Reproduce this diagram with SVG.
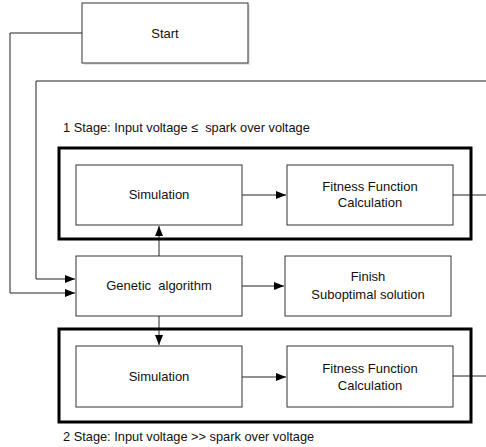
<svg xmlns="http://www.w3.org/2000/svg" width="486" height="447" viewBox="0 0 486 447">
<style>
.box{fill:#fff;stroke:#333;stroke-width:1}
.stage{fill:none;stroke:#000;stroke-width:3}
.ln{fill:none;stroke:#222;stroke-width:1}
text{font-family:"Liberation Sans",Arial,sans-serif;font-size:13px;fill:#111;text-anchor:middle}
.lbl{text-anchor:start;font-size:12.8px}
</style>
<defs>
<marker id="ah" markerWidth="10" markerHeight="8" refX="10" refY="4" orient="auto" markerUnits="userSpaceOnUse">
<path d="M0,0 L10,4 L0,8 Z" fill="#000"/>
</marker>
</defs>
<rect width="486" height="447" fill="#fff"/>
<g id="connectors">
<path class="ln" d="M82,33 H10 V293 H75" marker-end="url(#ah)"/>
<path class="ln" d="M486,81 H36 V279 H75" marker-end="url(#ah)"/>
<path class="ln" d="M242,195 H286" marker-end="url(#ah)"/>
<path class="ln" d="M453,195 H486"/>
<path class="ln" d="M159,256 V226" marker-end="url(#ah)"/>
<path class="ln" d="M242,286 H284" marker-end="url(#ah)"/>
<path class="ln" d="M159,316 V345" marker-end="url(#ah)"/>
<path class="ln" d="M242,377 H286" marker-end="url(#ah)"/>
<path class="ln" d="M453,376 H486"/>
</g>
<g id="start">
<rect x="84" y="5" width="166" height="60" fill="#ccc" opacity="0.5"/>
<rect class="box" x="82" y="3" width="166" height="60"/>
<text x="165" y="38">Start</text>
</g>
<g id="stage1">
<text class="lbl" x="63" y="132" xml:space="preserve">1 Stage: Input voltage ≤  spark over voltage</text>
<rect class="stage" x="59" y="148" width="412" height="91"/>
</g>
<g id="sim1">
<rect class="box" x="76" y="165" width="166" height="60"/>
<text x="159" y="199">Simulation</text>
</g>
<g id="fit1">
<rect class="box" x="287" y="165" width="166" height="60"/>
<text x="370" y="191">Fitness Function</text>
<text x="370" y="207">Calculation</text>
</g>
<g id="ga">
<rect class="box" x="76" y="256" width="166" height="60"/>
<text x="159" y="290" xml:space="preserve">Genetic  algorithm</text>
</g>
<g id="finish">
<rect class="box" x="285" y="256" width="166" height="60"/>
<text x="368" y="281">Finish</text>
<text x="368" y="299">Suboptimal solution</text>
</g>
<g id="stage2">
<rect class="stage" x="59" y="329" width="412" height="93"/>
<text class="lbl" x="63" y="441">2 Stage: Input voltage &gt;&gt; spark over voltage</text>
</g>
<g id="sim2">
<rect class="box" x="76" y="346" width="166" height="61"/>
<text x="159" y="381">Simulation</text>
</g>
<g id="fit2">
<rect class="box" x="287" y="346" width="166" height="61"/>
<text x="370" y="373">Fitness Function</text>
<text x="370" y="390">Calculation</text>
</g>
</svg>
